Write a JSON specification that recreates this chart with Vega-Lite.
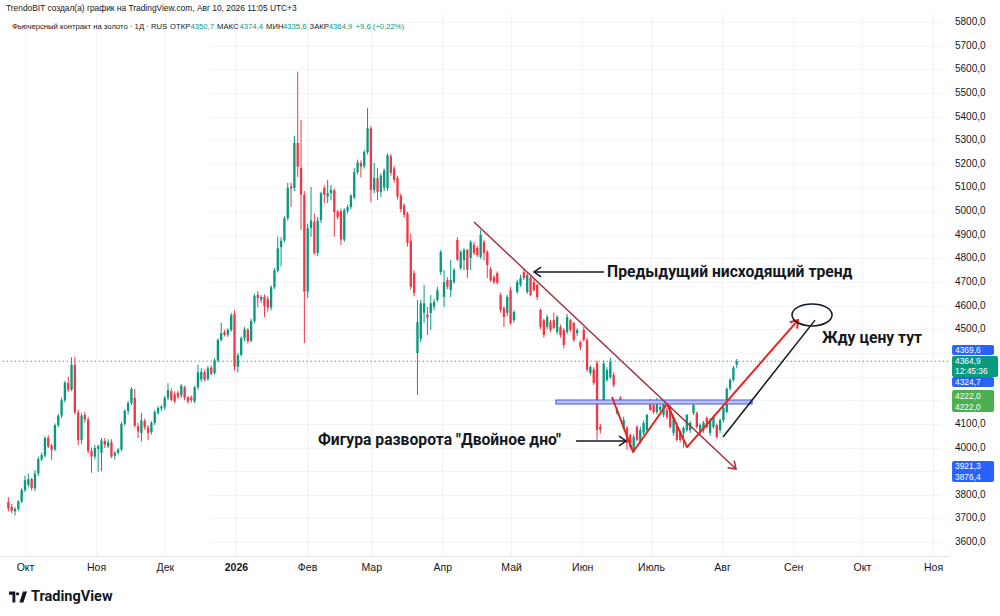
{
  "$schema": "https://vega.github.io/schema/vega-lite/v6.json",
  "width": 948,
  "height": 543,
  "autosize": {"type": "none"},
  "padding": {"left": 0, "top": 13, "right": 52, "bottom": 60},
  "background": "#ffffff",
  "config": {
    "view": {"stroke": null},
    "font": "Liberation Sans",
    "locale": {"number": {"decimal": ",", "thousands": " ", "grouping": [3], "currency": ["", ""]}}
  },
  "datasets": {
    "candles": [
      {"d":"2025-09-24","o":3770,"h":3790,"l":3730,"c":3742},
      {"d":"2025-09-25","o":3748,"h":3762,"l":3722,"c":3732},
      {"d":"2025-09-26","o":3730,"h":3748,"l":3712,"c":3740},
      {"d":"2025-09-29","o":3740,"h":3778,"l":3732,"c":3772},
      {"d":"2025-09-30","o":3772,"h":3828,"l":3765,"c":3820},
      {"d":"2025-10-01","o":3820,"h":3880,"l":3812,"c":3862},
      {"d":"2025-10-02","o":3842,"h":3890,"l":3832,"c":3866},
      {"d":"2025-10-03","o":3866,"h":3872,"l":3818,"c":3828},
      {"d":"2025-10-06","o":3828,"h":3905,"l":3815,"c":3890},
      {"d":"2025-10-07","o":3890,"h":3962,"l":3880,"c":3952},
      {"d":"2025-10-08","o":3950,"h":3978,"l":3942,"c":3968},
      {"d":"2025-10-09","o":3966,"h":4048,"l":3958,"c":4040},
      {"d":"2025-10-10","o":4040,"h":4052,"l":3998,"c":4005},
      {"d":"2025-10-13","o":4008,"h":4015,"l":3948,"c":3990},
      {"d":"2025-10-14","o":3992,"h":4102,"l":3985,"c":4095},
      {"d":"2025-10-15","o":4095,"h":4142,"l":4085,"c":4135},
      {"d":"2025-10-16","o":4135,"h":4212,"l":4125,"c":4200},
      {"d":"2025-10-17","o":4200,"h":4282,"l":4190,"c":4275},
      {"d":"2025-10-20","o":4273,"h":4300,"l":4235,"c":4245},
      {"d":"2025-10-21","o":4245,"h":4382,"l":4238,"c":4350},
      {"d":"2025-10-22","o":4350,"h":4385,"l":4140,"c":4148},
      {"d":"2025-10-23","o":4148,"h":4160,"l":4010,"c":4032},
      {"d":"2025-10-24","o":4032,"h":4145,"l":4015,"c":4135},
      {"d":"2025-10-27","o":4138,"h":4150,"l":4105,"c":4118},
      {"d":"2025-10-28","o":4118,"h":4130,"l":3975,"c":3985},
      {"d":"2025-10-29","o":3985,"h":4000,"l":3893,"c":3962},
      {"d":"2025-10-30","o":3962,"h":4010,"l":3950,"c":3998},
      {"d":"2025-10-31","o":3994,"h":4012,"l":3897,"c":4006},
      {"d":"2025-11-03","o":3978,"h":4040,"l":3900,"c":4030},
      {"d":"2025-11-04","o":4028,"h":4040,"l":3998,"c":4012},
      {"d":"2025-11-05","o":4005,"h":4035,"l":3998,"c":4022},
      {"d":"2025-11-06","o":4022,"h":4035,"l":3955,"c":3962},
      {"d":"2025-11-07","o":3965,"h":3985,"l":3950,"c":3978},
      {"d":"2025-11-10","o":3978,"h":3998,"l":3970,"c":3992},
      {"d":"2025-11-11","o":3992,"h":4108,"l":3985,"c":4100},
      {"d":"2025-11-12","o":4100,"h":4162,"l":4092,"c":4155},
      {"d":"2025-11-13","o":4155,"h":4198,"l":4140,"c":4188},
      {"d":"2025-11-14","o":4188,"h":4255,"l":4180,"c":4248},
      {"d":"2025-11-17","o":4210,"h":4248,"l":4085,"c":4092},
      {"d":"2025-11-18","o":4090,"h":4105,"l":4040,"c":4068},
      {"d":"2025-11-19","o":4062,"h":4146,"l":4025,"c":4115},
      {"d":"2025-11-20","o":4112,"h":4122,"l":4075,"c":4085},
      {"d":"2025-11-21","o":4085,"h":4095,"l":4032,"c":4062},
      {"d":"2025-11-24","o":4066,"h":4112,"l":4055,"c":4104},
      {"d":"2025-11-25","o":4104,"h":4158,"l":4095,"c":4150},
      {"d":"2025-11-26","o":4146,"h":4175,"l":4138,"c":4167},
      {"d":"2025-11-28","o":4165,"h":4180,"l":4155,"c":4172},
      {"d":"2025-12-01","o":4170,"h":4218,"l":4160,"c":4210},
      {"d":"2025-12-02","o":4210,"h":4272,"l":4200,"c":4243},
      {"d":"2025-12-03","o":4238,"h":4250,"l":4195,"c":4202},
      {"d":"2025-12-04","o":4225,"h":4238,"l":4186,"c":4195},
      {"d":"2025-12-05","o":4232,"h":4240,"l":4205,"c":4215},
      {"d":"2025-12-08","o":4220,"h":4268,"l":4210,"c":4262},
      {"d":"2025-12-09","o":4255,"h":4262,"l":4200,"c":4210},
      {"d":"2025-12-10","o":4212,"h":4218,"l":4185,"c":4195},
      {"d":"2025-12-11","o":4212,"h":4220,"l":4190,"c":4200},
      {"d":"2025-12-12","o":4195,"h":4260,"l":4188,"c":4255},
      {"d":"2025-12-15","o":4255,"h":4350,"l":4245,"c":4318},
      {"d":"2025-12-16","o":4288,"h":4335,"l":4278,"c":4320},
      {"d":"2025-12-17","o":4318,"h":4328,"l":4280,"c":4288},
      {"d":"2025-12-18","o":4290,"h":4345,"l":4282,"c":4335},
      {"d":"2025-12-19","o":4338,"h":4348,"l":4305,"c":4312},
      {"d":"2025-12-22","o":4315,"h":4378,"l":4308,"c":4368},
      {"d":"2025-12-23","o":4368,"h":4462,"l":4360,"c":4455},
      {"d":"2025-12-24","o":4455,"h":4528,"l":4448,"c":4484},
      {"d":"2025-12-26","o":4488,"h":4498,"l":4470,"c":4476},
      {"d":"2025-12-29","o":4478,"h":4505,"l":4468,"c":4497},
      {"d":"2025-12-30","o":4497,"h":4570,"l":4490,"c":4560},
      {"d":"2025-12-31","o":4565,"h":4580,"l":4325,"c":4342},
      {"d":"2026-01-02","o":4342,"h":4400,"l":4318,"c":4390},
      {"d":"2026-01-05","o":4392,"h":4470,"l":4385,"c":4462},
      {"d":"2026-01-06","o":4462,"h":4510,"l":4450,"c":4500},
      {"d":"2026-01-07","o":4498,"h":4505,"l":4440,"c":4450},
      {"d":"2026-01-08","o":4452,"h":4545,"l":4445,"c":4535},
      {"d":"2026-01-09","o":4535,"h":4650,"l":4525,"c":4642},
      {"d":"2026-01-12","o":4645,"h":4662,"l":4592,"c":4632},
      {"d":"2026-01-13","o":4625,"h":4645,"l":4612,"c":4637},
      {"d":"2026-01-14","o":4637,"h":4648,"l":4552,"c":4598},
      {"d":"2026-01-15","o":4628,"h":4640,"l":4575,"c":4592},
      {"d":"2026-01-16","o":4592,"h":4686,"l":4580,"c":4678},
      {"d":"2026-01-20","o":4678,"h":4760,"l":4670,"c":4750},
      {"d":"2026-01-21","o":4748,"h":4892,"l":4740,"c":4842},
      {"d":"2026-01-22","o":4848,"h":4890,"l":4765,"c":4875},
      {"d":"2026-01-23","o":4876,"h":4978,"l":4868,"c":4970},
      {"d":"2026-01-26","o":4970,"h":5120,"l":4960,"c":5098},
      {"d":"2026-01-27","o":5104,"h":5120,"l":5017,"c":5096},
      {"d":"2026-01-28","o":5098,"h":5318,"l":5085,"c":5288},
      {"d":"2026-01-29","o":5288,"h":5590,"l":5144,"c":5188},
      {"d":"2026-01-30","o":5182,"h":5385,"l":4920,"c":5070},
      {"d":"2026-02-02","o":5068,"h":5085,"l":4442,"c":4660},
      {"d":"2026-02-03","o":4660,"h":4945,"l":4632,"c":4928},
      {"d":"2026-02-04","o":4929,"h":5102,"l":4891,"c":4960},
      {"d":"2026-02-05","o":4955,"h":4990,"l":4815,"c":4823},
      {"d":"2026-02-06","o":4823,"h":4975,"l":4810,"c":4960},
      {"d":"2026-02-09","o":4962,"h":5082,"l":4950,"c":5075},
      {"d":"2026-02-10","o":5098,"h":5110,"l":5034,"c":5070},
      {"d":"2026-02-11","o":5062,"h":5132,"l":5034,"c":5076},
      {"d":"2026-02-12","o":5076,"h":5110,"l":5045,"c":5090},
      {"d":"2026-02-13","o":5088,"h":5095,"l":4891,"c":4996},
      {"d":"2026-02-17","o":4998,"h":5005,"l":4965,"c":4975},
      {"d":"2026-02-18","o":5000,"h":5010,"l":4857,"c":4880},
      {"d":"2026-02-19","o":4880,"h":5012,"l":4870,"c":5004},
      {"d":"2026-02-20","o":5000,"h":5028,"l":4990,"c":5017},
      {"d":"2026-02-23","o":5017,"h":5072,"l":5008,"c":5066},
      {"d":"2026-02-24","o":5058,"h":5182,"l":5050,"c":5165},
      {"d":"2026-02-25","o":5165,"h":5218,"l":5155,"c":5206},
      {"d":"2026-02-26","o":5205,"h":5215,"l":5142,"c":5188},
      {"d":"2026-02-27","o":5190,"h":5258,"l":5180,"c":5250},
      {"d":"2026-03-02","o":5250,"h":5436,"l":5240,"c":5350},
      {"d":"2026-03-03","o":5350,"h":5360,"l":5038,"c":5090},
      {"d":"2026-03-04","o":5090,"h":5204,"l":5076,"c":5140},
      {"d":"2026-03-05","o":5140,"h":5182,"l":5047,"c":5082},
      {"d":"2026-03-06","o":5082,"h":5160,"l":5060,"c":5150},
      {"d":"2026-03-09","o":5100,"h":5180,"l":5085,"c":5172},
      {"d":"2026-03-10","o":5098,"h":5245,"l":5085,"c":5236},
      {"d":"2026-03-11","o":5232,"h":5242,"l":5150,"c":5162},
      {"d":"2026-03-12","o":5180,"h":5192,"l":5120,"c":5132},
      {"d":"2026-03-13","o":5140,"h":5150,"l":5050,"c":5062},
      {"d":"2026-03-16","o":5065,"h":5075,"l":4995,"c":5008},
      {"d":"2026-03-17","o":5025,"h":5032,"l":4972,"c":4985},
      {"d":"2026-03-18","o":4990,"h":4998,"l":4850,"c":4866},
      {"d":"2026-03-19","o":4875,"h":4905,"l":4668,"c":4680},
      {"d":"2026-03-20","o":4738,"h":4750,"l":4640,"c":4655},
      {"d":"2026-03-23","o":4400,"h":4624,"l":4222,"c":4530},
      {"d":"2026-03-24","o":4460,"h":4625,"l":4445,"c":4610},
      {"d":"2026-03-25","o":4570,"h":4688,"l":4527,"c":4610},
      {"d":"2026-03-26","o":4562,"h":4594,"l":4476,"c":4550},
      {"d":"2026-03-27","o":4569,"h":4645,"l":4497,"c":4610},
      {"d":"2026-03-30","o":4596,"h":4628,"l":4580,"c":4616},
      {"d":"2026-03-31","o":4624,"h":4680,"l":4615,"c":4665},
      {"d":"2026-04-01","o":4742,"h":4835,"l":4730,"c":4827},
      {"d":"2026-04-02","o":4637,"h":4751,"l":4594,"c":4700},
      {"d":"2026-04-06","o":4709,"h":4720,"l":4670,"c":4680},
      {"d":"2026-04-07","o":4666,"h":4793,"l":4637,"c":4709},
      {"d":"2026-04-08","o":4700,"h":4760,"l":4692,"c":4751},
      {"d":"2026-04-09","o":4878,"h":4890,"l":4788,"c":4795},
      {"d":"2026-04-10","o":4760,"h":4835,"l":4750,"c":4827},
      {"d":"2026-04-13","o":4793,"h":4845,"l":4750,"c":4836},
      {"d":"2026-04-14","o":4836,"h":4840,"l":4717,"c":4752},
      {"d":"2026-04-15","o":4802,"h":4878,"l":4750,"c":4869},
      {"d":"2026-04-16","o":4857,"h":4870,"l":4815,"c":4823},
      {"d":"2026-04-17","o":4844,"h":4852,"l":4805,"c":4814},
      {"d":"2026-04-20","o":4806,"h":4920,"l":4798,"c":4899},
      {"d":"2026-04-21","o":4869,"h":4878,"l":4793,"c":4823},
      {"d":"2026-04-22","o":4827,"h":4835,"l":4717,"c":4772},
      {"d":"2026-04-23","o":4755,"h":4765,"l":4700,"c":4709},
      {"d":"2026-04-24","o":4721,"h":4730,"l":4690,"c":4700},
      {"d":"2026-04-27","o":4738,"h":4745,"l":4690,"c":4696},
      {"d":"2026-04-28","o":4645,"h":4655,"l":4570,"c":4582},
      {"d":"2026-04-29","o":4590,"h":4598,"l":4510,"c":4552},
      {"d":"2026-04-30","o":4569,"h":4645,"l":4555,"c":4637},
      {"d":"2026-05-01","o":4666,"h":4680,"l":4518,"c":4527},
      {"d":"2026-05-04","o":4539,"h":4580,"l":4528,"c":4573},
      {"d":"2026-05-05","o":4658,"h":4710,"l":4650,"c":4700},
      {"d":"2026-05-06","o":4688,"h":4730,"l":4680,"c":4717},
      {"d":"2026-05-07","o":4742,"h":4758,"l":4708,"c":4717},
      {"d":"2026-05-08","o":4658,"h":4738,"l":4650,"c":4730},
      {"d":"2026-05-11","o":4717,"h":4728,"l":4640,"c":4645},
      {"d":"2026-05-12","o":4700,"h":4710,"l":4660,"c":4666},
      {"d":"2026-05-13","o":4688,"h":4692,"l":4625,"c":4637},
      {"d":"2026-05-14","o":4582,"h":4588,"l":4500,"c":4510},
      {"d":"2026-05-15","o":4539,"h":4545,"l":4465,"c":4476},
      {"d":"2026-05-18","o":4510,"h":4562,"l":4500,"c":4552},
      {"d":"2026-05-19","o":4531,"h":4540,"l":4488,"c":4497},
      {"d":"2026-05-20","o":4539,"h":4570,"l":4500,"c":4506},
      {"d":"2026-05-21","o":4489,"h":4560,"l":4478,"c":4552},
      {"d":"2026-05-22","o":4510,"h":4520,"l":4465,"c":4476},
      {"d":"2026-05-26","o":4497,"h":4505,"l":4420,"c":4434},
      {"d":"2026-05-27","o":4489,"h":4565,"l":4480,"c":4552},
      {"d":"2026-05-28","o":4539,"h":4545,"l":4490,"c":4497},
      {"d":"2026-05-29","o":4527,"h":4532,"l":4448,"c":4455},
      {"d":"2026-06-01","o":4484,"h":4505,"l":4472,"c":4497},
      {"d":"2026-06-02","o":4446,"h":4452,"l":4412,"c":4425},
      {"d":"2026-06-03","o":4497,"h":4510,"l":4448,"c":4455},
      {"d":"2026-06-04","o":4455,"h":4465,"l":4320,"c":4330},
      {"d":"2026-06-05","o":4315,"h":4348,"l":4305,"c":4341},
      {"d":"2026-06-08","o":4330,"h":4340,"l":4265,"c":4273},
      {"d":"2026-06-09","o":4358,"h":4368,"l":4032,"c":4074},
      {"d":"2026-06-10","o":4088,"h":4100,"l":4060,"c":4075},
      {"d":"2026-06-11","o":4201,"h":4368,"l":4190,"c":4355},
      {"d":"2026-06-12","o":4286,"h":4340,"l":4278,"c":4328},
      {"d":"2026-06-15","o":4298,"h":4380,"l":4290,"c":4362},
      {"d":"2026-06-16","o":4307,"h":4318,"l":4255,"c":4264},
      {"d":"2026-06-17","o":4146,"h":4170,"l":4138,"c":4159},
      {"d":"2026-06-18","o":4210,"h":4218,"l":4180,"c":4188},
      {"d":"2026-06-22","o":4083,"h":4130,"l":4075,"c":4116},
      {"d":"2026-06-23","o":4083,"h":4092,"l":3990,"c":4019},
      {"d":"2026-06-24","o":4053,"h":4060,"l":3994,"c":4002},
      {"d":"2026-06-25","o":3990,"h":4055,"l":3981,"c":4045},
      {"d":"2026-06-26","o":4087,"h":4095,"l":4025,"c":4032},
      {"d":"2026-06-29","o":4023,"h":4088,"l":4015,"c":4074},
      {"d":"2026-06-30","o":4062,"h":4115,"l":4052,"c":4104},
      {"d":"2026-07-01","o":4074,"h":4142,"l":4066,"c":4138},
      {"d":"2026-07-02","o":4193,"h":4205,"l":4155,"c":4159},
      {"d":"2026-07-06","o":4180,"h":4190,"l":4142,"c":4150},
      {"d":"2026-07-07","o":4150,"h":4210,"l":4140,"c":4201},
      {"d":"2026-07-08","o":4159,"h":4180,"l":4150,"c":4171},
      {"d":"2026-07-09","o":4138,"h":4195,"l":4128,"c":4188},
      {"d":"2026-07-10","o":4159,"h":4168,"l":4120,"c":4129},
      {"d":"2026-07-13","o":4171,"h":4180,"l":4080,"c":4087},
      {"d":"2026-07-14","o":4062,"h":4136,"l":4050,"c":4129},
      {"d":"2026-07-15","o":4095,"h":4105,"l":4025,"c":4032},
      {"d":"2026-07-16","o":4066,"h":4072,"l":4022,"c":4032},
      {"d":"2026-07-17","o":4062,"h":4090,"l":4000,"c":4083},
      {"d":"2026-07-20","o":4074,"h":4142,"l":4066,"c":4138},
      {"d":"2026-07-21","o":4074,"h":4112,"l":4062,"c":4104},
      {"d":"2026-07-22","o":4146,"h":4200,"l":4138,"c":4180},
      {"d":"2026-07-23","o":4146,"h":4152,"l":4080,"c":4087},
      {"d":"2026-07-24","o":4066,"h":4102,"l":4055,"c":4095},
      {"d":"2026-07-27","o":4074,"h":4112,"l":4062,"c":4104},
      {"d":"2026-07-28","o":4125,"h":4132,"l":4080,"c":4087},
      {"d":"2026-07-29","o":4062,"h":4125,"l":4050,"c":4116},
      {"d":"2026-07-30","o":4087,"h":4138,"l":4080,"c":4129},
      {"d":"2026-07-31","o":4095,"h":4102,"l":4038,"c":4045},
      {"d":"2026-08-03","o":4074,"h":4122,"l":4062,"c":4116},
      {"d":"2026-08-04","o":4116,"h":4172,"l":4105,"c":4167},
      {"d":"2026-08-05","o":4150,"h":4255,"l":4145,"c":4248},
      {"d":"2026-08-06","o":4250,"h":4292,"l":4240,"c":4286},
      {"d":"2026-08-07","o":4286,"h":4345,"l":4278,"c":4338},
      {"d":"2026-08-10","o":4350.7,"h":4374.4,"l":4335.6,"c":4364.9}
    ],
    "lines": [
      {"g":"trend","k":1,"t":"2026-04-14T19:40:00Z","p":4954},
      {"g":"trend","k":2,"t":"2026-08-07T02:00:00Z","p":3909},
      {"g":"red","k":1,"t":"2026-06-14T00:15:00Z","p":4213.7},
      {"g":"red","k":2,"t":"2026-06-23T04:00:00Z","p":3981},
      {"g":"red","k":3,"t":"2026-07-08T00:00:00Z","p":4184},
      {"g":"red","k":4,"t":"2026-07-16T17:15:00Z","p":4002},
      {"g":"red","k":5,"t":"2026-09-03T03:00:00Z","p":4539},
      {"g":"black","k":1,"t":"2026-08-01T10:00:00Z","p":4044.5},
      {"g":"black","k":2,"t":"2026-09-10T13:00:00Z","p":4539},
      {"g":"arrow1","k":1,"t":"2026-06-10T12:30:00Z","p":4742.5},
      {"g":"arrow1","k":2,"t":"2026-05-10T23:45:00Z","p":4742.5},
      {"g":"arrow2","k":1,"t":"2026-05-29T07:30:00Z","p":4027.6},
      {"g":"arrow2","k":2,"t":"2026-06-20T02:40:00Z","p":4027.6}
    ],
    "header": [
      {"k":"top","t":"2025-09-22T17:00:00Z","p":5859.2,"txt":"TrendoBIT создал(а) график на TradingView.com, Авг 10, 2026 11:05 UTC+3"},
      {"k":"dark","t":"2025-09-25T08:00:00Z","p":5778.8,"txt":"Фьючерсный контракт на золото · 1Д · RUS"},
      {"k":"dark","t":"2025-12-03T05:45:00Z","p":5778.8,"txt":"ОТКР"},
      {"k":"green","t":"2025-12-12T04:20:00Z","p":5778.8,"txt":"4350,7"},
      {"k":"dark","t":"2025-12-23T17:45:00Z","p":5778.8,"txt":"МАКС"},
      {"k":"green","t":"2026-01-02T13:10:00Z","p":5778.8,"txt":"4374,4"},
      {"k":"dark","t":"2026-01-14T02:40:00Z","p":5778.8,"txt":"МИН"},
      {"k":"green","t":"2026-01-21T12:30:00Z","p":5778.8,"txt":"4335,6"},
      {"k":"dark","t":"2026-02-02T02:50:00Z","p":5778.8,"txt":"ЗАКР"},
      {"k":"green","t":"2026-02-10T12:00:00Z","p":5778.8,"txt":"4364,9"},
      {"k":"green","t":"2026-02-22T03:20:00Z","p":5778.8,"txt":"+9,6 (+0,22%)"}
    ],
    "priceTicks": [
      {"v":3600},{"v":3700},{"v":3800},{"v":4000},{"v":4100},
      {"v":4500},{"v":4600},{"v":4700},{"v":4800},{"v":4900},{"v":5000},{"v":5100},
      {"v":5200},{"v":5300},{"v":5400},{"v":5500},{"v":5600},{"v":5700},{"v":5800}
    ],
    "badges": [
      {"k":"blue","t1":"2026-11-09T07:00:00Z","t2":"2026-11-27T14:40:00Z","p1":4391.4,"p2":4433.7},
      {"k":"green","t1":"2026-11-09T07:00:00Z","t2":"2026-11-29T08:30:00Z","p1":4298.3,"p2":4387.1},
      {"k":"blue","t1":"2026-11-09T07:00:00Z","t2":"2026-11-27T14:40:00Z","p1":4256.0,"p2":4298.3},
      {"k":"lime","t1":"2026-11-09T07:00:00Z","t2":"2026-11-27T14:40:00Z","p1":4150.3,"p2":4243.3},
      {"k":"blue","t1":"2026-11-09T07:00:00Z","t2":"2026-11-27T14:40:00Z","p1":3854.1,"p2":3943.0}
    ],
    "badgeText": [
      {"t":"2026-11-10T14:00:00Z","p":4412.5,"txt":"4369,6"},
      {"t":"2026-11-10T14:00:00Z","p":4366.0,"txt":"4364,9"},
      {"t":"2026-11-10T14:00:00Z","p":4325.8,"txt":"12:45:36"},
      {"t":"2026-11-10T14:00:00Z","p":4277.2,"txt":"4324,7"},
      {"t":"2026-11-10T14:00:00Z","p":4217.9,"txt":"4222,0"},
      {"t":"2026-11-10T14:00:00Z","p":4171.4,"txt":"4222,0"},
      {"t":"2026-11-10T14:00:00Z","p":3921.8,"txt":"3921,3"},
      {"t":"2026-11-10T14:00:00Z","p":3875.3,"txt":"3876,4"}
    ]
  },
  "layer": [
    {
      "data": {"name": "candles"},
      "encoding": {
        "x": {
          "field": "d",
          "type": "ordinal",
          "scale": {"type": "band", "range": [7.2, 737.9], "paddingInner": 0.3, "paddingOuter": 0},
          "axis": null
        },
        "color": {"condition": {"test": "datum.c >= datum.o", "value": "#089981"}, "value": "#f23645"}
      },
      "layer": [
        {
          "mark": {"type": "rule", "strokeWidth": 1},
          "encoding": {
            "y": {
              "field": "l",
              "type": "quantitative",
              "scale": {"domain": [3541.1, 5838.1], "nice": false, "zero": false},
              "axis": {
                "orient": "right",
                "title": null,
                "values": [3600, 3700, 3800, 3900, 4000, 4100, 4200, 4300, 4400, 4500, 4600, 4700, 4800, 4900, 5000, 5100, 5200, 5300, 5400, 5500, 5600, 5700, 5800],
                "tickCount": 23,
                "labels": false,
                "grid": true,
                "gridColor": "#f0f3fa",
                "ticks": false,
                "domain": false
              }
            },
            "y2": {"field": "h"}
          }
        },
        {
          "mark": {"type": "bar"},
          "encoding": {
            "y": {"field": "o", "type": "quantitative"},
            "y2": {"field": "c"}
          }
        }
      ]
    },
    {
      "layer": [
        {
          "data": {"values": [{"t1": "2026-05-20T14:00:00Z", "t2": "2026-08-14T01:30:00Z", "p1": 4184, "p2": 4201}]},
          "mark": {"type": "rect", "fill": "#bcc3f7", "stroke": "#4a56e6", "strokeWidth": 1.2},
          "encoding": {
            "x": {
              "field": "t1",
              "type": "temporal",
              "scale": {
                "type": "utc",
                "domain": [
                  {"year": 2025, "month": 9, "date": 20, "hours": 2, "minutes": 19, "utc": true},
                  {"year": 2026, "month": 11, "date": 7, "hours": 12, "minutes": 43, "utc": true}
                ]
              },
              "axis": {
                "title": null,
                "values": [
                  {"year": 2025, "month": 10, "date": 1, "utc": true},
                  {"year": 2025, "month": 11, "date": 1, "utc": true},
                  {"year": 2025, "month": 12, "date": 1, "utc": true},
                  {"year": 2026, "month": 1, "date": 1, "utc": true},
                  {"year": 2026, "month": 2, "date": 1, "utc": true},
                  {"year": 2026, "month": 3, "date": 1, "utc": true},
                  {"year": 2026, "month": 4, "date": 1, "utc": true},
                  {"year": 2026, "month": 5, "date": 1, "utc": true},
                  {"year": 2026, "month": 6, "date": 1, "utc": true},
                  {"year": 2026, "month": 7, "date": 1, "utc": true},
                  {"year": 2026, "month": 8, "date": 1, "utc": true},
                  {"year": 2026, "month": 9, "date": 1, "utc": true},
                  {"year": 2026, "month": 10, "date": 1, "utc": true},
                  {"year": 2026, "month": 11, "date": 1, "utc": true}
                ],
                "labelExpr": "utcmonth(datum.value) == 0 ? '' + utcyear(datum.value) : ['Янв','Фев','Мар','Апр','Май','Июн','Июль','Авг','Сен','Окт','Ноя','Дек'][utcmonth(datum.value)]",
                "labelFontWeight": {"condition": {"test": "utcmonth(datum.value) == 0", "value": "bold"}, "value": "normal"},
                "grid": true,
                "gridColor": "#f0f3fa",
                "ticks": false,
                "domainColor": "#e0e3eb",
                "labelColor": "#131722",
                "labelFontSize": 10.5,
                "labelPadding": 6,
                "labelFont": "Liberation Sans",
                "labelOverlap": false,
                "labelFlush": false
              }
            },
            "x2": {"field": "t2"},
            "y": {"field": "p1", "type": "quantitative"},
            "y2": {"field": "p2"}
          }
        },
        {
          "data": {"values": [{"p": 4364.9}]},
          "mark": {"type": "rule", "stroke": "#089981", "strokeDash": [1.5, 2.5], "strokeWidth": 1, "opacity": 0.8},
          "encoding": {"y": {"field": "p", "type": "quantitative"}}
        },
        {
          "data": {"name": "lines"},
          "transform": [{"filter": "datum.g == 'trend'"}],
          "mark": {"type": "line", "stroke": "#a3303b", "strokeWidth": 1.5},
          "encoding": {
            "x": {"field": "t", "type": "temporal"},
            "y": {"field": "p", "type": "quantitative"},
            "order": {"field": "k"}
          }
        },
        {
          "data": {"name": "lines"},
          "transform": [{"filter": "datum.g == 'red'"}],
          "mark": {"type": "line", "stroke": "#e8231e", "strokeWidth": 2, "strokeJoin": "round"},
          "encoding": {
            "x": {"field": "t", "type": "temporal"},
            "y": {"field": "p", "type": "quantitative"},
            "order": {"field": "k"}
          }
        },
        {
          "data": {"name": "lines"},
          "transform": [{"filter": "datum.g == 'black' || datum.g == 'arrow1' || datum.g == 'arrow2'"}],
          "mark": {"type": "line", "stroke": "#131722", "strokeWidth": 1.5},
          "encoding": {
            "x": {"field": "t", "type": "temporal"},
            "y": {"field": "p", "type": "quantitative"},
            "detail": {"field": "g"},
            "order": {"field": "k"}
          }
        },
        {
          "data": {"values": [{"t": "2026-08-07T02:00:00Z", "p": 3909}]},
          "mark": {"type": "point", "shape": "M-1,-0.7L0,0L-1,0.7", "size": 196, "angle": 43, "filled": false, "stroke": "#a3303b", "strokeWidth": 1.5, "opacity": 1},
          "encoding": {"x": {"field": "t", "type": "temporal"}, "y": {"field": "p", "type": "quantitative"}}
        },
        {
          "data": {"values": [{"t": "2026-05-10T23:45:00Z", "p": 4742.5}]},
          "mark": {"type": "point", "shape": "M-1,-0.7L0,0L-1,0.7", "size": 196, "angle": 180, "filled": false, "stroke": "#131722", "strokeWidth": 1.5, "opacity": 1},
          "encoding": {"x": {"field": "t", "type": "temporal"}, "y": {"field": "p", "type": "quantitative"}}
        },
        {
          "data": {"values": [{"t": "2026-06-20T02:40:00Z", "p": 4027.6}]},
          "mark": {"type": "point", "shape": "M-1,-0.7L0,0L-1,0.7", "size": 196, "angle": 0, "filled": false, "stroke": "#131722", "strokeWidth": 1.5, "opacity": 1},
          "encoding": {"x": {"field": "t", "type": "temporal"}, "y": {"field": "p", "type": "quantitative"}}
        },
        {
          "data": {"values": [{"t": "2026-09-03T03:00:00Z", "p": 4539}]},
          "mark": {"type": "point", "shape": "M-1,-0.7L0,0L-1,0.7", "size": 196, "angle": 311, "filled": false, "stroke": "#e8231e", "strokeWidth": 2, "opacity": 1},
          "encoding": {"x": {"field": "t", "type": "temporal"}, "y": {"field": "p", "type": "quantitative"}}
        },
        {
          "data": {"values": [{"t": "2026-09-09T05:30:00Z", "p": 4560.6}]},
          "mark": {"type": "point", "shape": "M-1,0A1,0.55,0,1,1,1,0A1,0.55,0,1,1,-1,0Z", "size": 1600, "filled": false, "stroke": "#131722", "strokeWidth": 1.5, "opacity": 1},
          "encoding": {"x": {"field": "t", "type": "temporal"}, "y": {"field": "p", "type": "quantitative"}}
        },
        {
          "data": {"values": [
            {"t": "2026-06-11T20:00:00Z", "p": 4742.5, "txt": "Предыдущий нисходящий тренд"},
            {"t": "2026-02-05T19:00:00Z", "p": 4031.8, "txt": "Фигура разворота \"Двойное дно\""},
            {"t": "2026-09-13T14:00:00Z", "p": 4463, "txt": "Жду цену тут"}
          ]},
          "mark": {"type": "text", "align": "left", "baseline": "middle", "font": "Roboto", "fontWeight": "bold", "fontSize": 15.7, "fill": "#131722"},
          "encoding": {
            "x": {"field": "t", "type": "temporal"},
            "y": {"field": "p", "type": "quantitative"},
            "text": {"field": "txt"}
          }
        },
        {
          "data": {"name": "header"},
          "transform": [{"filter": "datum.k == 'top'"}],
          "mark": {"type": "text", "align": "left", "baseline": "middle", "font": "Liberation Sans", "fontSize": 8.4, "fill": "#131722"},
          "encoding": {
            "x": {"field": "t", "type": "temporal"},
            "y": {"field": "p", "type": "quantitative"},
            "text": {"field": "txt"}
          }
        },
        {
          "data": {"name": "header"},
          "transform": [{"filter": "datum.k == 'dark'"}],
          "mark": {"type": "text", "align": "left", "baseline": "middle", "font": "Liberation Sans", "fontSize": 7.7, "fill": "#131722"},
          "encoding": {
            "x": {"field": "t", "type": "temporal"},
            "y": {"field": "p", "type": "quantitative"},
            "text": {"field": "txt"}
          }
        },
        {
          "data": {"name": "header"},
          "transform": [{"filter": "datum.k == 'green'"}],
          "mark": {"type": "text", "align": "left", "baseline": "middle", "font": "Liberation Sans", "fontSize": 7.7, "fill": "#089981"},
          "encoding": {
            "x": {"field": "t", "type": "temporal"},
            "y": {"field": "p", "type": "quantitative"},
            "text": {"field": "txt"}
          }
        },
        {
          "data": {"name": "priceTicks"},
          "mark": {"type": "text", "align": "left", "baseline": "middle", "font": "Liberation Sans", "fontSize": 10, "fill": "#131722"},
          "encoding": {
            "x": {"datum": {"year": 2026, "month": 11, "date": 10, "hours": 14, "utc": true}, "type": "temporal"},
            "y": {"field": "v", "type": "quantitative"},
            "text": {"field": "v", "type": "quantitative", "format": ".1f"}
          }
        },
        {
          "data": {"name": "badges"},
          "mark": {"type": "rect", "cornerRadius": 2},
          "encoding": {
            "x": {"field": "t1", "type": "temporal"},
            "x2": {"field": "t2"},
            "y": {"field": "p1", "type": "quantitative"},
            "y2": {"field": "p2"},
            "fill": {"field": "k", "type": "nominal", "scale": {"domain": ["blue", "green", "lime"], "range": ["#2962ff", "#089981", "#4caf50"]}, "legend": null}
          }
        },
        {
          "data": {"name": "badgeText"},
          "mark": {"type": "text", "align": "left", "baseline": "middle", "font": "Liberation Sans", "fontSize": 8.4, "fill": "#ffffff"},
          "encoding": {
            "x": {"field": "t", "type": "temporal"},
            "y": {"field": "p", "type": "quantitative"},
            "text": {"field": "txt"}
          }
        },
        {
          "data": {"values": [{"t": "2025-09-27T23:00:00Z", "p": 3367.7}]},
          "mark": {"type": "point", "shape": "M-1,-0.6H-0.3V0.6H-0.62V-0.25H-1Z M-0.23,-0.35A0.18,0.18,0,1,0,0.13,-0.35A0.18,0.18,0,1,0,-0.23,-0.35Z M0.15,0.6L0.55,-0.6H1L0.6,0.6Z", "size": 324, "filled": true, "fill": "#131722", "opacity": 1},
          "encoding": {"x": {"field": "t", "type": "temporal"}, "y": {"field": "p", "type": "quantitative"}}
        },
        {
          "data": {"values": [{"t": "2025-10-03T15:00:00Z", "p": 3367.7, "txt": "TradingView"}]},
          "mark": {"type": "text", "align": "left", "baseline": "middle", "font": "Roboto", "fontWeight": "bold", "fontSize": 14.5, "fill": "#131722"},
          "encoding": {
            "x": {"field": "t", "type": "temporal"},
            "y": {"field": "p", "type": "quantitative"},
            "text": {"field": "txt"}
          }
        }
      ]
    }
  ],
  "resolve": {"scale": {"x": "independent"}}
}
